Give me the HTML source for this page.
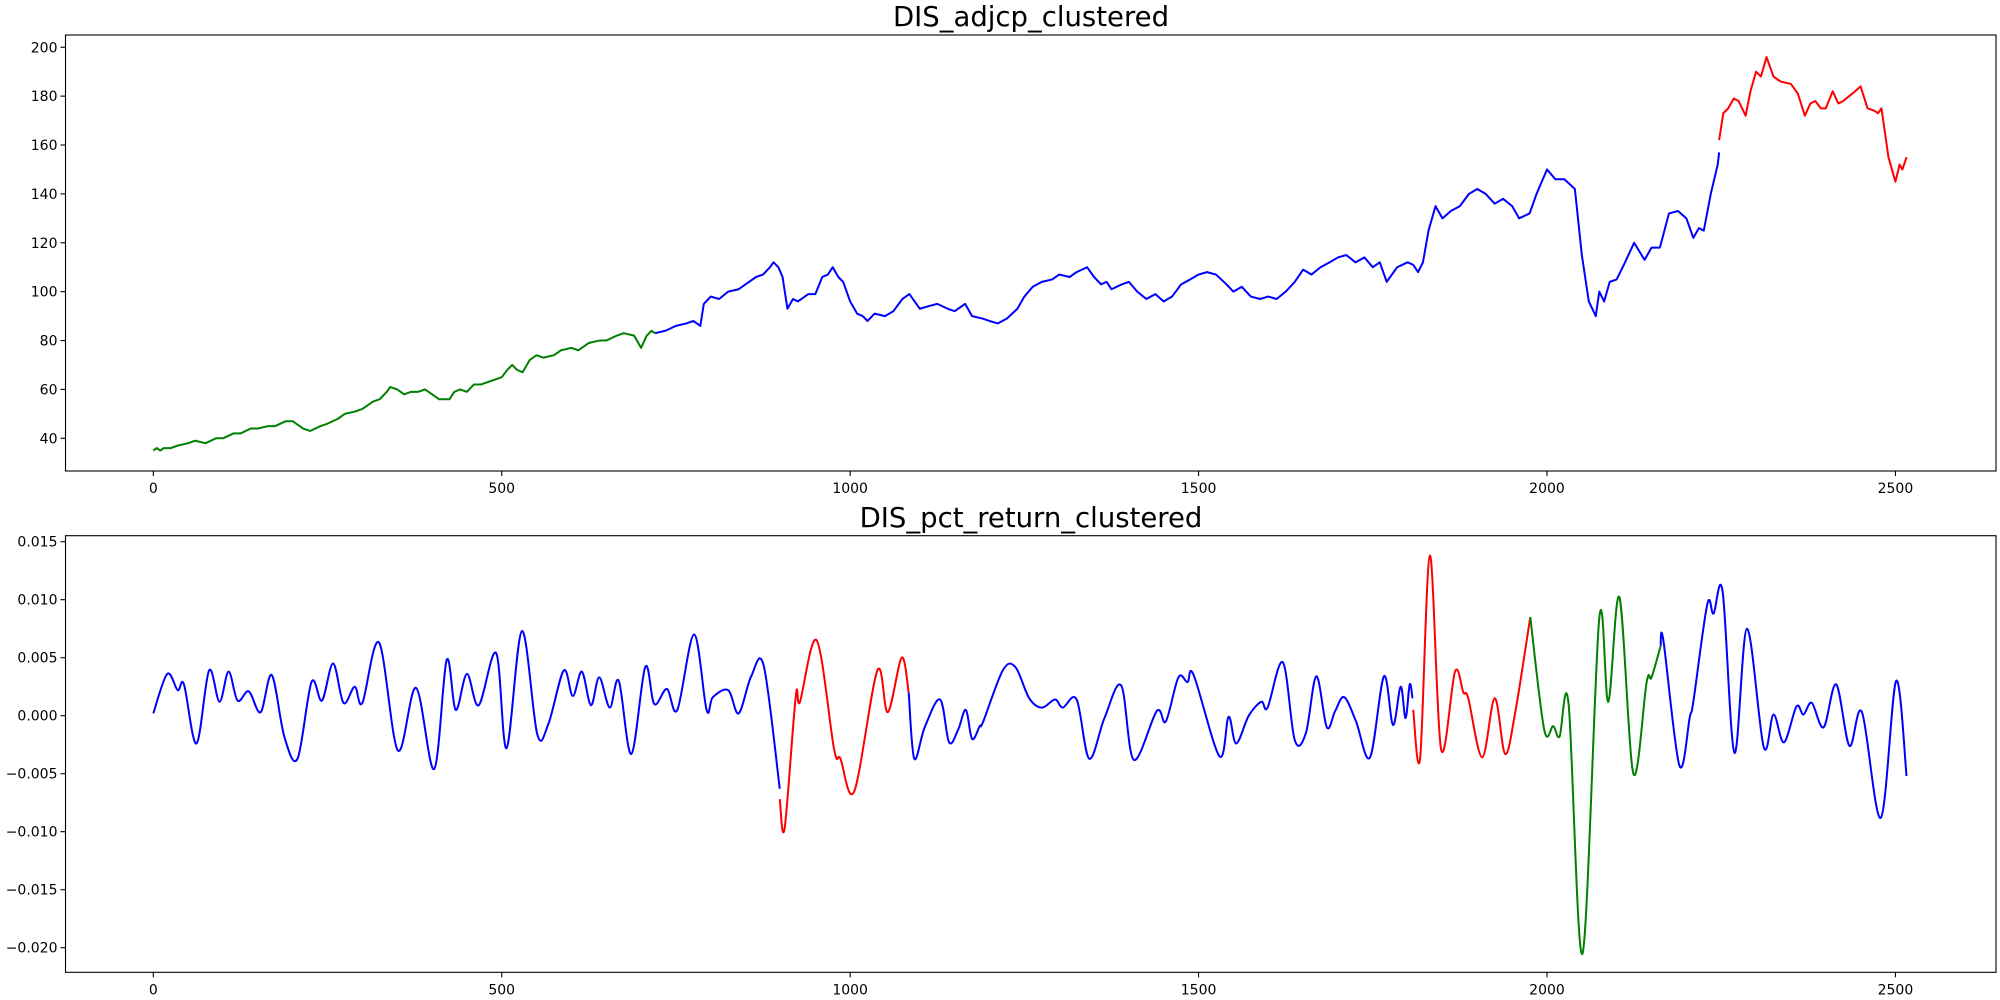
<!DOCTYPE html>
<html><head><meta charset="utf-8"><style>
body{margin:0;background:#fff;}
svg{display:block;font-family:"DejaVu Sans","Liberation Sans",sans-serif;}
</style></head><body>
<svg id="chart" width="2000" height="1000" viewBox="0 0 2000 1000" xmlns="http://www.w3.org/2000/svg">
<rect width="2000" height="1000" fill="#fff"/>
<g id="top"></g>
<g id="bot"></g>
</svg>
<script>
const xTicks=[0,500,1000,1500,2000,2500];
const topYTicks=[40,60,80,100,120,140,160,180,200];
const botYTicks=[-0.020,-0.015,-0.010,-0.005,0.000,0.005,0.010,0.015];
const botYLabels=["\u22120.020","\u22120.015","\u22120.010","\u22120.005","0.000","0.005","0.010","0.015"];
const priceGreen=[[0,35],[5,36],[10,35],[15,36],[25,36],[35,37],[50,38],[60,39],[75,38],[90,40],[100,40],[115,42],[125,42],[140,44],[150,44],[165,45],[175,45],[190,47],[200,47],[210,45],[215,44],[225,43],[240,45],[250,46],[265,48],[275,50],[290,51],[300,52],[315,55],[325,56],[335,59],[340,61],[350,60],[360,58],[370,59],[380,59],[390,60],[400,58],[410,56],[425,56],[432,59],[440,60],[450,59],[460,62],[470,62],[480,63],[490,64],[500,65],[508,68],[515,70],[522,68],[530,67],[540,72],[550,74],[560,73],[575,74],[585,76],[600,77],[610,76],[625,79],[640,80],[650,80],[665,82],[675,83],[690,82],[700,77],[708,82],[715,84],[720,83]];
const priceBlue=[[720,83],[735,84],[750,86],[765,87],[775,88],[785,86],[790,95],[800,98],[812,97],[825,100],[840,101],[850,103],[865,106],[875,107],[885,110],[890,112],[897,110],[903,106],[910,93],[918,97],[925,96],[940,99],[950,99],[960,106],[968,107],[975,110],[983,106],[990,104],[1000,96],[1010,91],[1018,90],[1025,88],[1035,91],[1050,90],[1062,92],[1075,97],[1085,99],[1100,93],[1112,94],[1125,95],[1140,93],[1150,92],[1165,95],[1175,90],[1190,89],[1200,88],[1212,87],[1225,89],[1240,93],[1250,98],[1262,102],[1275,104],[1290,105],[1300,107],[1315,106],[1325,108],[1340,110],[1350,106],[1360,103],[1368,104],[1375,101],[1390,103],[1400,104],[1412,100],[1425,97],[1438,99],[1450,96],[1462,98],[1475,103],[1488,105],[1500,107],[1512,108],[1525,107],[1540,103],[1550,100],[1562,102],[1575,98],[1588,97],[1600,98],[1612,97],[1625,100],[1638,104],[1650,109],[1662,107],[1675,110],[1688,112],[1700,114],[1712,115],[1725,112],[1738,114],[1750,110],[1760,112],[1770,104],[1785,110],[1800,112],[1808,111],[1815,108],[1822,112],[1830,125],[1840,135],[1850,130],[1862,133],[1875,135],[1888,140],[1900,142],[1912,140],[1925,136],[1937,138],[1950,135],[1960,130],[1975,132],[1985,140],[2000,150],[2012,146],[2025,146],[2040,142],[2050,115],[2060,96],[2070,90],[2075,100],[2082,96],[2090,104],[2100,105],[2112,112],[2125,120],[2140,113],[2150,118],[2162,118],[2175,132],[2188,133],[2200,130],[2210,122],[2218,126],[2225,125],[2235,140],[2245,152],[2247,157]];
const priceRed=[[2247,162],[2253,173],[2260,175],[2268,179],[2275,178],[2285,172],[2292,182],[2300,190],[2307,188],[2315,196],[2325,188],[2335,186],[2350,185],[2360,181],[2370,172],[2378,177],[2385,178],[2393,175],[2400,175],[2410,182],[2418,177],[2425,178],[2438,181],[2450,184],[2460,175],[2470,174],[2475,173],[2480,175],[2485,165],[2490,155],[2500,145],[2506,152],[2510,150],[2516,155]];
const retBlue1=[[0,0.2],[20,3.6],[35,2.2],[44,2.7],[62,-2.4],[80,3.9],[95,1.2],[108,3.8],[121,1.3],[137,2.1],[154,0.3],[170,3.5],[188,-1.8],[207,-3.7],[227,2.9],[242,1.3],[258,4.5],[273,1.1],[289,2.5],[300,1.1],[324,6.3],[351,-3.0],[377,2.4],[403,-4.6],[421,4.8],[434,0.5],[450,3.6],[467,0.9],[492,5.4],[507,-2.8],[529,7.3],[551,-1.6],[567,-0.7],[589,3.9],[602,1.7],[615,3.8],[628,0.9],[640,3.3],[655,0.7],[668,3.0],[686,-3.3],[706,4.2],[719,1.0],[737,2.3],[752,0.5],[776,7.0],[794,0.5],[803,1.6],[825,2.2],[840,0.2],[858,3.4],[876,4.3],[899,-6.3]];
const retRed1=[[899,-7.2],[906,-9.7],[922,1.7],[928,1.2],[952,6.5],[977,-2.9],[986,-3.7],[1006,-6.5],[1039,3.9],[1054,0.3],[1074,5.0],[1084,2.0]];
const retBlue2=[[1084,2.0],[1092,-3.7],[1107,-1.0],[1129,1.4],[1142,-2.3],[1155,-1.2],[1166,0.5],[1175,-2.0],[1186,-0.9],[1191,-0.5],[1219,3.9],[1237,4.2],[1257,1.5],[1275,0.7],[1294,1.4],[1305,0.7],[1325,1.4],[1343,-3.7],[1365,-0.2],[1389,2.6],[1407,-3.8],[1440,0.4],[1453,-0.5],[1471,3.3],[1484,2.9],[1493,3.5],[1530,-3.5],[1543,-0.1],[1554,-2.4],[1572,0],[1590,1.2],[1599,0.7],[1621,4.6],[1638,-2.1],[1654,-1.5],[1669,3.4],[1684,-1.0],[1696,0.4],[1709,1.6],[1726,-0.5],[1746,-3.6],[1766,3.4],[1779,-0.8],[1790,2.5],[1797,-0.2],[1803,2.7],[1807,1.5]];
const retRed2=[[1808,0.5],[1818,-3.6],[1832,13.8],[1848,-2.9],[1868,3.8],[1880,2.0],[1887,1.5],[1907,-3.6],[1925,1.5],[1940,-3.3],[1955,0.5],[1976,8.5]];
const retGreen=[[1976,8.5],[1996,-1.2],[2009,-0.9],[2018,-1.8],[2031,1.0],[2051,-20.5],[2075,8.4],[2088,1.2],[2104,10.2],[2124,-5.0],[2143,2.9],[2150,3.3],[2163,6.0]];
const retBlue3=[[2163,6.0],[2167,6.5],[2190,-4.3],[2205,-0.1],[2210,1.2],[2230,9.6],[2239,8.8],[2252,10.7],[2269,-3.2],[2287,7.5],[2311,-2.7],[2325,0.1],[2340,-2.3],[2358,0.8],[2368,0.1],[2380,1.1],[2397,-1.0],[2415,2.7],[2434,-2.6],[2452,0.3],[2479,-8.8],[2501,3.0],[2516,-5.2]];

const NS="http://www.w3.org/2000/svg";
const X0=65.5,X1=1996;
const xs=i=>153.3+i*0.69685;
const T={top:35,bot:471,y:v=>438.3-(v-40)*2.444};
const B={top:535.7,bot:972.3,y:v=>715.7-v*11600};
function mk(tag,attrs,parent){const e=document.createElementNS(NS,tag);for(const k in attrs)e.setAttribute(k,attrs[k]);parent.appendChild(e);return e;}
function catmull(pts){let d="M"+pts[0][0].toFixed(2)+","+pts[0][1].toFixed(2);
 for(let i=0;i<pts.length-1;i++){const p0=pts[i-1]||pts[i],p1=pts[i],p2=pts[i+1],p3=pts[i+2]||p2;
  const c1=[p1[0]+(p2[0]-p0[0])/6,p1[1]+(p2[1]-p0[1])/6],c2=[p2[0]-(p3[0]-p1[0])/6,p2[1]-(p3[1]-p1[1])/6];
  d+=" C"+c1.map(v=>v.toFixed(2))+" "+c2.map(v=>v.toFixed(2))+" "+p2[0].toFixed(2)+","+p2[1].toFixed(2);}
 return d;}
function axes(g,P,yt,yl,title,titleY,name){
 const r=mk('rect',{x:X0,y:P.top,width:X1-X0,height:P.bot-P.top,fill:'none',stroke:'#000','stroke-width':1.1},g);
 
 
 xTicks.forEach(t=>{const x=xs(t);
  const l=mk('line',{x1:x,x2:x,y1:P.bot,y2:P.bot+5,stroke:'#000','stroke-width':1.1},g);
  
  
  const tx=mk('text',{x:x,y:P.bot+22,'font-size':14,'text-anchor':'middle',fill:'#000'},g);tx.textContent=t;
  
  });
 yt.forEach((t,k)=>{const y=P.y(t);
  const l=mk('line',{x1:X0-5,x2:X0,y1:y,y2:y,stroke:'#000','stroke-width':1.1},g);
  
  
  const tx=mk('text',{x:X0-8,y:y+5,'font-size':14,'text-anchor':'end',fill:'#000'},g);tx.textContent=yl[k];
  
  });
 const ti=mk('text',{x:1031,y:titleY,'font-size':27.5,'text-anchor':'middle',fill:'#000'},g);ti.textContent=title;
 
 }
function series(g,P,data,color,smooth,scale,name){
 const pts=data.map(d=>[xs(d[0]),P.y(d[1]*scale)]);
 const d=smooth?catmull(pts):"M"+pts.map(p=>p[0].toFixed(2)+","+p[1].toFixed(2)).join(" L");
 const p=mk('path',{d:d,fill:'none',stroke:color,'stroke-width':2.0,'stroke-linejoin':'round'},g);
 
 }
const gt=document.getElementById('top'),gb=document.getElementById('bot');
axes(gt,T,topYTicks,topYTicks.map(String),'DIS_adjcp_clustered',26,'price');
axes(gb,B,botYTicks,botYLabels,'DIS_pct_return_clustered',527,'return');
series(gt,T,priceGreen,'#008000',false,1,'price-green-cluster');
series(gt,T,priceBlue,'#0000ff',false,1,'price-blue-cluster');
series(gt,T,priceRed,'#ff0000',false,1,'price-red-cluster');
series(gb,B,retBlue1,'#0000ff',true,0.001,'return-blue-cluster-1');
series(gb,B,retRed1,'#ff0000',true,0.001,'return-red-cluster-1');
series(gb,B,retBlue2,'#0000ff',true,0.001,'return-blue-cluster-2');
series(gb,B,retRed2,'#ff0000',true,0.001,'return-red-cluster-2');
series(gb,B,retGreen,'#008000',true,0.001,'return-green-cluster');
series(gb,B,retBlue3,'#0000ff',true,0.001,'return-blue-cluster-3');
</script>
</body></html>
